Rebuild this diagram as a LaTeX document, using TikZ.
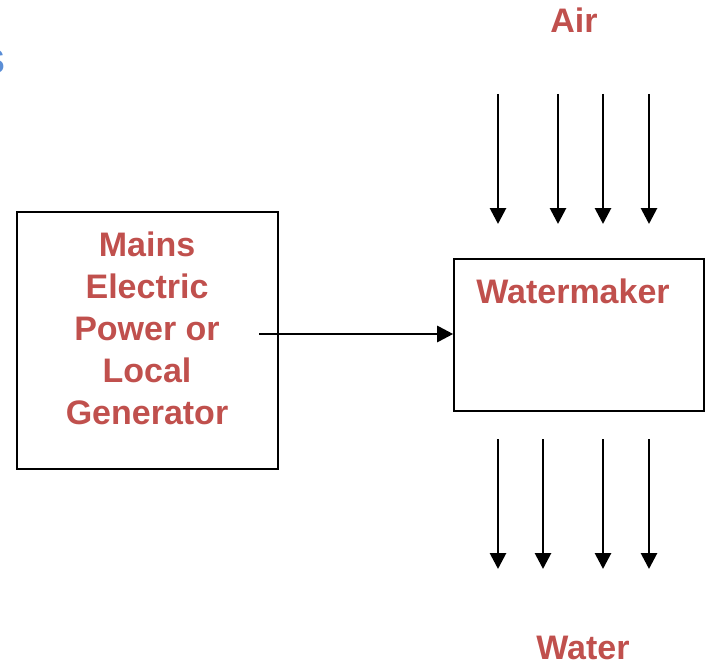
\documentclass[tikz,border=0pt]{standalone}
\usepackage{fontspec}
\setmainfont{Liberation Sans}
\usetikzlibrary{arrows.meta}
\definecolor{lbl}{HTML}{C0504D}
\definecolor{blu}{HTML}{5B8ED6}
\begin{document}
\begin{tikzpicture}[x=1pt,y=-1pt,
  box/.style={draw=black,line width=1.6pt,inner sep=0pt},
  lbltext/.style={text=lbl,font=\bfseries\fontsize{34}{42}\selectfont,align=center},
  flow/.style={line width=2.8pt,-{Triangle[width=16pt,length=16pt]}}]
\useasboundingbox (0,0) rectangle (706,666);
\clip (0,0) rectangle (706,666);
\node[box,minimum width=261pt,minimum height=257pt] (mains) at (147.5,340.5) {};
\node[lbltext] (mainstext) at (147,328) {Mains\\Electric\\Power or\\Local\\Generator};
\node[box,minimum width=250pt,minimum height=152pt] (wm) at (579,335) {};
\node[lbltext] (wmtext) at (573,291) {Watermaker};
\node[lbltext] (air) at (574,20) {Air};
\node[lbltext] (water) at (583,648) {Water};
\node[text=blu,font=\bfseries\fontsize{34}{40}\selectfont,anchor=east,inner sep=0pt] (s) at (5,62) {S};
\coordinate (src) at (259,334);
\draw[flow] (src) -- (wm.west |- src);
\foreach \x [count=\i] in {498,558,603,649}{
  \coordinate (a\i) at (\x,94);
  \coordinate (b\i) at (\x,224);
  \draw[flow] (a\i) -- (b\i);
}
\foreach \x [count=\i] in {498,543,603,649}{
  \coordinate (c\i) at (\x,439);
  \coordinate (d\i) at (\x,569);
  \draw[flow] (c\i) -- (d\i);
}
\end{tikzpicture}
\end{document}
